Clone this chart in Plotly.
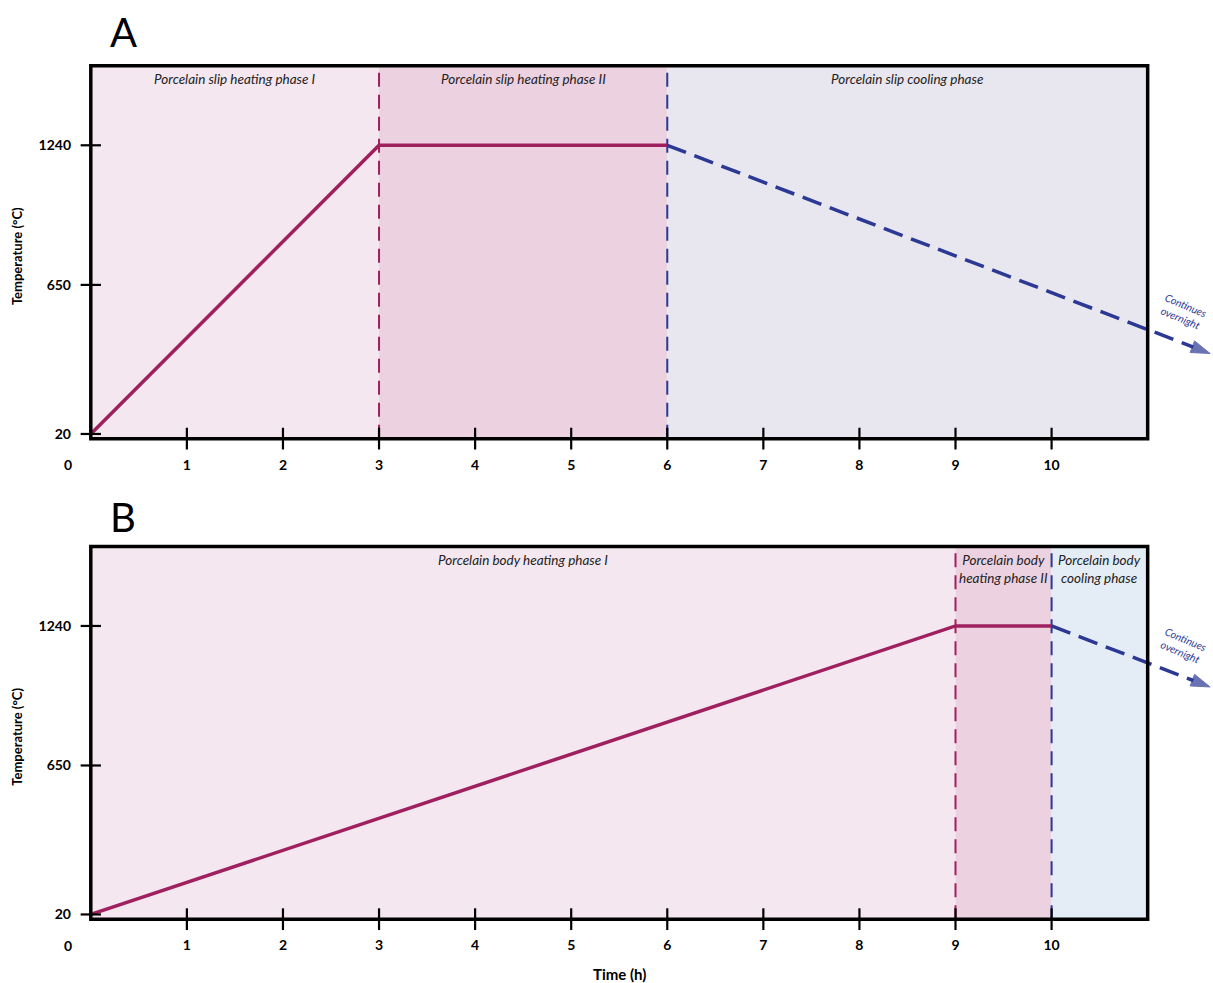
import plotly.graph_objects as go

# ---------------- data ----------------
x_ticks = [1, 2, 3, 4, 5, 6, 7, 8, 9, 10]
y_ticks = [20, 650, 1240]

a_heat_t = [0, 3, 6]
a_heat_T = [20, 1240, 1240]
a_cool_t = [6, 11.65]
a_cool_T = [1240, 360]

b_heat_t = [0, 9, 10]
b_heat_T = [20, 1240, 1240]
b_cool_t = [10, 11.65]
b_cool_T = [1240, 982]

a_phase_start = [0, 3, 6]
a_phase_end = [3, 6, 11]
a_phase_names = ["Porcelain slip heating phase I", "Porcelain slip heating phase II",
                 "Porcelain slip cooling phase"]
b_phase_start = [0, 9, 10]
b_phase_end = [9, 10, 11]
b_phase_names = ["Porcelain body heating phase I", "Porcelain body<br>heating phase II",
                 "Porcelain body<br>cooling phase"]

a_divider_t = [3, 6]
b_divider_t = [9, 10]

# ---------------- style ----------------
MAG = "#a0205f"
BLUE = "#2b3994"
A_BG = ["#f5e7ef", "#ecd1e1", "#e8e6ee"]
B_BG = ["#f5e7ef", "#ecd1e1", "#e4ecf6"]
DIV_COL = [MAG, BLUE]
FONT = "Lato"
T_MAX = 11
FRAME_TOP = 1576
XR = [-0.05, 11.68]
YR = [-50, 1592]
TICK_HALF = 46  # half-length of x tick marks, in temperature units (about 11 px)

fig = go.Figure()

panels = [
    ("x", "y", a_phase_start, a_phase_end, a_phase_names, A_BG, a_divider_t,
     a_heat_t, a_heat_T, a_cool_t, a_cool_T),
    ("x2", "y2", b_phase_start, b_phase_end, b_phase_names, B_BG, b_divider_t,
     b_heat_t, b_heat_T, b_cool_t, b_cool_T),
]

shapes = []
annotations = []
for (xr, yr, ps, pe, names, bgs, divs, ht, hT, ct, cT) in panels:
    # backgrounds
    for s, e, c in zip(ps, pe, bgs):
        shapes.append(dict(type="rect", xref=xr, yref=yr, x0=s, x1=e, y0=0, y1=FRAME_TOP,
                           fillcolor=c, line=dict(width=0), layer="below"))
    # phase labels
    for s, e, n in zip(ps, pe, names):
        annotations.append(dict(xref=xr, yref=yr, x=(s + e) / 2, y=FRAME_TOP, text=n,
                                showarrow=False, yanchor="top", yshift=-3,
                                font=dict(family=FONT, size=13.5, color="#222222", style="italic")))
    # dividers
    for d, c in zip(divs, DIV_COL):
        fig.add_trace(go.Scatter(x=[d, d], y=[0, FRAME_TOP], mode="lines", xaxis=xr, yaxis=yr,
                                 line=dict(color=c, width=2, dash="14px,8px"),
                                 hoverinfo="skip", showlegend=False))
    # heating line
    fig.add_trace(go.Scatter(x=ht, y=hT, mode="lines", xaxis=xr, yaxis=yr,
                             line=dict(color=MAG, width=3.5), showlegend=False, cliponaxis=False))
    # cooling line with arrow
    fig.add_trace(go.Scatter(x=ct, y=cT, mode="lines+markers", xaxis=xr, yaxis=yr,
                             line=dict(color=BLUE, width=3.5, dash="20px,9px"),
                             marker=dict(size=[0, 20], symbol="arrow", angleref="previous",
                                         color=BLUE, line=dict(width=1, color=BLUE)),
                             showlegend=False, cliponaxis=False))
    # frame
    shapes.append(dict(type="rect", xref=xr, yref=yr, x0=0, x1=T_MAX, y0=0, y1=FRAME_TOP,
                       line=dict(color="black", width=3.5), layer="above"))
    # x tick marks crossing the axis
    for t in x_ticks:
        shapes.append(dict(type="line", xref=xr, yref=yr, x0=t, x1=t,
                           y0=-TICK_HALF, y1=TICK_HALF,
                           line=dict(color="black", width=2.2), layer="above"))
    # y tick marks
    fig.add_trace(go.Scatter(x=[0] * len(y_ticks), y=y_ticks, mode="markers", xaxis=xr, yaxis=yr,
                             marker=dict(symbol="line-ew-open", size=14.5, color="black",
                                         line=dict(color="black", width=2.2)),
                             showlegend=False, cliponaxis=False, hoverinfo="skip"))
    # origin "0"
    annotations.append(dict(xref=xr, yref=yr, x=0, y=0, text="0", showarrow=False,
                            xshift=-23, yshift=-26,
                            font=dict(family=FONT, size=14, color="black", weight="bold")))
    # continues overnight
    annotations.append(dict(xref=xr, yref=yr, x=11.37,
                            y=(cT[0] + (cT[1] - cT[0]) * (11.37 - ct[0]) / (ct[1] - ct[0])) + 130,
                            text="Continues<br>overnight", showarrow=False, textangle=23,
                            font=dict(family=FONT, size=10.5, color=BLUE, style="italic")))

annotations.append(dict(xref="paper", yref="paper", x=0.033, y=1.0, text="A", showarrow=False,
                        xanchor="center", yanchor="middle", yshift=30,
                        font=dict(family=FONT, size=40, color="black")))
annotations.append(dict(xref="paper", yref="paper", x=0.033, y=0.4468, text="B", showarrow=False,
                        xanchor="center", yanchor="middle", yshift=26,
                        font=dict(family=FONT, size=40, color="black")))
annotations.append(dict(xref="x2", yref="y2 domain", x=5.5, y=0, text="Time (h)", showarrow=False,
                        yanchor="middle", yshift=-43,
                        font=dict(family=FONT, size=15, color="black", weight="bold")))

tickfont = dict(family=FONT, size=14, color="black", weight="bold")
xaxis_common = dict(range=XR, tickvals=x_ticks, ticktext=[str(v) for v in x_ticks], ticks="",
                    showgrid=False, zeroline=False, showline=False, tickfont=tickfont,
                    ticklabelstandoff=4)
yaxis_common = dict(range=YR, tickvals=y_ticks, ticktext=[str(v) for v in y_ticks], ticks="",
                    showgrid=False, zeroline=False, showline=False, tickfont=tickfont,
                    ticklabelstandoff=14,
                    title=dict(text="Temperature (°C)", standoff=12,
                               font=dict(family=FONT, size=13, color="black", weight="bold")))

fig.update_layout(
    width=1213, height=983,
    margin=dict(l=86, r=0, t=62, b=52),
    paper_bgcolor="white", plot_bgcolor="white",
    xaxis=dict(domain=[0, 1], anchor="y", **xaxis_common),
    yaxis=dict(domain=[0.5529, 1], anchor="x", **yaxis_common),
    xaxis2=dict(domain=[0, 1], anchor="y2", **xaxis_common),
    yaxis2=dict(domain=[0, 0.4468], anchor="x2", **yaxis_common),
    shapes=shapes,
    annotations=annotations,
    showlegend=False,
)

# remove the default page margin so the 1213x983 figure fills the window exactly
fig.write_html("out.html", config={"displayModeBar": False},
               post_script="document.body.style.margin='0';document.body.style.overflow='hidden';")
